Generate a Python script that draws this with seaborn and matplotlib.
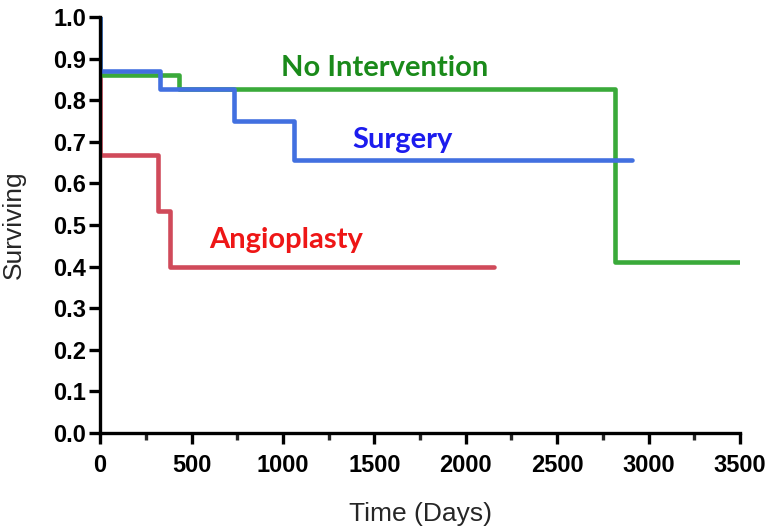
import numpy as np
import pandas as pd
import matplotlib
matplotlib.use("Agg")
import matplotlib.pyplot as plt
import seaborn as sns

# step data (time in days, surviving fraction)
no_int_t = [0, 0, 432, 2818, 3500]
no_int_s = [1.0, 0.86, 0.826, 0.41, 0.41]
surgery_t = [0, 0, 330, 733, 1061, 2909]
surgery_s = [1.0, 0.87, 0.826, 0.75, 0.656, 0.656]
angio_t = [0, 0, 315, 383, 2154]
angio_s = [1.0, 0.667, 0.533, 0.40, 0.40]

groups = ["No Intervention", "Surgery", "Angioplasty"]
line_colors = {"No Intervention": "#3aaa3a", "Surgery": "#4270e0", "Angioplasty": "#d04a5a"}
text_colors = {"No Intervention": "#1a8a1a", "Surgery": "#1c1cee", "Angioplasty": "#ee1616"}
# label anchor (days, surviving)
label_pos = {"No Intervention": (1559, 0.877), "Surgery": (1652, 0.704), "Angioplasty": (1017, 0.464)}

frames = []
for name, t, s in [("No Intervention", no_int_t, no_int_s),
                   ("Surgery", surgery_t, surgery_s),
                   ("Angioplasty", angio_t, angio_s)]:
    frames.append(pd.DataFrame({"time": t, "surv": s, "group": name}))
df = pd.concat(frames, ignore_index=True)

sns.set_style("ticks")
plt.rcParams['font.family'] = ['Liberation Sans', 'DejaVu Sans']

fig = plt.figure(figsize=(7.7, 5.28), dpi=100)
ax = fig.add_axes([0.13, 0.18, 0.831, 0.788])

for name in ["Angioplasty", "No Intervention", "Surgery"]:
    sub = df[df["group"] == name]
    sns.lineplot(data=sub, x="time", y="surv", ax=ax, color=line_colors[name],
                 linewidth=3.3, drawstyle="steps-post", estimator=None, sort=False,
                 legend=False)

for name in groups:
    x, y = label_pos[name]
    ax.text(x, y, name, color=text_colors[name], fontsize=21, fontweight="bold",
            ha="center", va="center", family=["Lato", "Liberation Sans", "DejaVu Sans"])

ax.set_xlim(0, 3500)
ax.set_ylim(0, 1.0)
ax.set_xticks(np.arange(0, 3501, 500))
ax.set_xticks(np.arange(250, 3500, 500), minor=True)
ax.set_yticks(np.arange(0, 1.01, 0.1))
ax.set_yticklabels([f"{v:.1f}" for v in np.arange(0, 1.01, 0.1)])

for side in ["top", "right"]:
    ax.spines[side].set_visible(False)
for side in ["left", "bottom"]:
    ax.spines[side].set_linewidth(2.4)
    ax.spines[side].set_color("black")

ax.tick_params(axis="y", which="major", width=2.4, length=8, labelsize=17, colors="black", pad=2)
ax.tick_params(axis="x", which="major", width=2.4, length=8, labelsize=17, colors="black", pad=7)
ax.tick_params(axis="x", which="minor", width=2.4, length=5)
for lab in ax.get_xticklabels() + ax.get_yticklabels():
    lab.set_fontweight("bold")

ax.set_xlabel("Time (Days)", fontsize=19, labelpad=18)
ax.set_ylabel("Surviving", fontsize=19, labelpad=20)

fig.savefig("out.png", dpi=100, facecolor="white")
